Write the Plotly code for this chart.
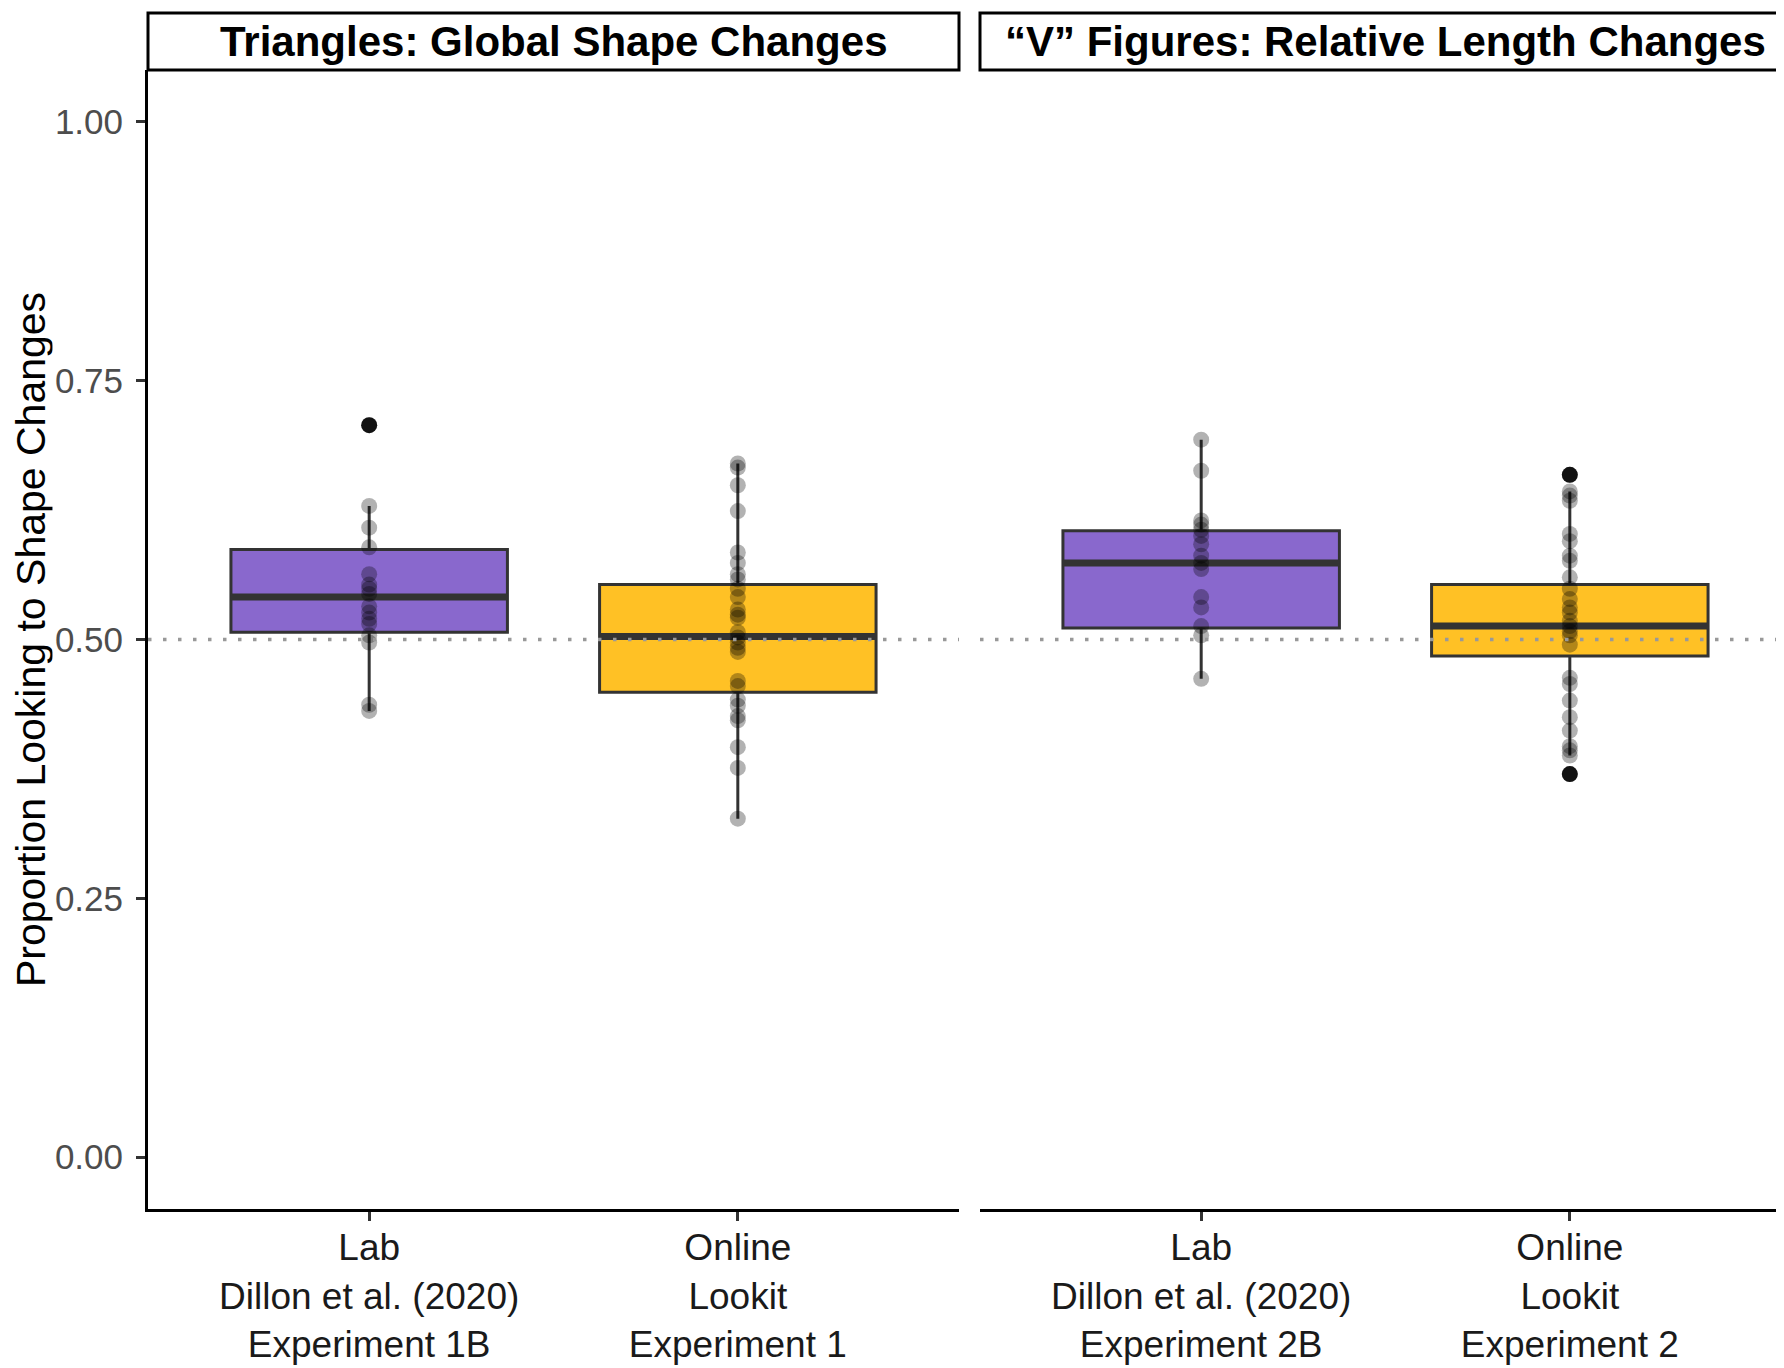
"""
Boxplots of looking proportions: lab vs online, triangles and "V" figures.
"""
import plotly.graph_objects as go
from plotly.subplots import make_subplots

panel_titles = ["Triangles: Global Shape Changes", "\u201cV\u201d Figures: Relative Length Changes"]
groups = ["Lab", "Online"]
tick_labels = [
    ["Lab<br>Dillon et al. (2020)<br>Experiment 1B", "Online<br>Lookit<br>Experiment 1"],
    ["Lab<br>Dillon et al. (2020)<br>Experiment 2B", "Online<br>Lookit<br>Experiment 2"],
]
group_colors = {"Lab": "#8968CD", "Online": "#FFC125"}
chance = 0.5

# box statistics per panel, order follows groups
tri_q1 = [0.507, 0.449]
tri_median = [0.541, 0.503]
tri_q3 = [0.587, 0.553]
tri_lower = [0.431, 0.327]
tri_upper = [0.629, 0.670]

v_q1 = [0.511, 0.484]
v_median = [0.574, 0.513]
v_q3 = [0.605, 0.553]
v_lower = [0.462, 0.388]
v_upper = [0.693, 0.643]

# individual participants
tri_lab_points = [0.707, 0.629, 0.608, 0.589, 0.563, 0.553, 0.549, 0.544, 0.532, 0.526,
                  0.520, 0.515, 0.504, 0.497, 0.437, 0.431]
tri_online_points = [0.670, 0.666, 0.649, 0.624, 0.584, 0.574, 0.563, 0.558, 0.549, 0.541,
                     0.529, 0.524, 0.521, 0.507, 0.502, 0.497, 0.492, 0.488, 0.460, 0.455,
                     0.442, 0.436, 0.426, 0.422, 0.396, 0.376, 0.327]
v_lab_points = [0.693, 0.663, 0.615, 0.611, 0.606, 0.600, 0.592, 0.581, 0.574, 0.568,
                0.541, 0.531, 0.513, 0.504, 0.462]
v_online_points = [0.659, 0.643, 0.639, 0.634, 0.602, 0.595, 0.581, 0.576, 0.560, 0.549,
                   0.539, 0.531, 0.526, 0.518, 0.513, 0.508, 0.504, 0.495, 0.463, 0.457,
                   0.441, 0.425, 0.412, 0.397, 0.393, 0.388, 0.370]

tri_outlier_groups = ["Lab"]
tri_outliers = [0.707]
v_outlier_groups = ["Online", "Online"]
v_outliers = [0.659, 0.370]

panels = [
    dict(q1=tri_q1, med=tri_median, q3=tri_q3, lo=tri_lower, hi=tri_upper,
         points=[tri_lab_points, tri_online_points],
         out_x=tri_outlier_groups, out_y=tri_outliers),
    dict(q1=v_q1, med=v_median, q3=v_q3, lo=v_lower, hi=v_upper,
         points=[v_lab_points, v_online_points],
         out_x=v_outlier_groups, out_y=v_outliers),
]

FONT = "Liberation Sans, Arial, Helvetica, sans-serif"
W, H = 1784, 1368
ML, MR, MT, MB = 140, 1, 62, 167
plot_w = W - ML - MR
plot_h = H - MT - MB
gap = 21 / plot_w

fig = make_subplots(rows=1, cols=2, shared_yaxes=True, horizontal_spacing=gap)

for col, p in enumerate(panels, start=1):
    for i, g in enumerate(groups):
        fig.add_trace(go.Box(
            x=[g], q1=[p["q1"][i]], median=[p["med"][i]], q3=[p["q3"][i]],
            lowerfence=[p["lo"][i]], upperfence=[p["hi"][i]],
            width=0.75, fillcolor=group_colors[g],
            line=dict(color="#333333", width=3), boxpoints=False,
            whiskerwidth=0, showlegend=False, hoverinfo="skip",
        ), row=1, col=col)
        # thicker median bar
        fig.add_trace(go.Box(
            x=[g], q1=[p["med"][i]], median=[p["med"][i]], q3=[p["med"][i]],
            lowerfence=[p["med"][i]], upperfence=[p["med"][i]],
            width=0.75, fillcolor="rgba(0,0,0,0)",
            line=dict(color="#333333", width=7), boxpoints=False,
            showlegend=False, hoverinfo="skip",
        ), row=1, col=col)
    fig.add_trace(go.Scatter(
        x=p["out_x"], y=p["out_y"], mode="markers",
        marker=dict(size=16, color="#1a1a1a", line=dict(width=0)),
        showlegend=False, hoverinfo="skip",
    ), row=1, col=col)
    for i, g in enumerate(groups):
        fig.add_trace(go.Scatter(
            x=[g] * len(p["points"][i]), y=p["points"][i], mode="markers",
            marker=dict(size=16, color="rgba(0,0,0,0.3)", line=dict(width=0)),
            showlegend=False, hoverinfo="skip",
        ), row=1, col=col)

for col in (1, 2):
    fig.update_xaxes(
        type="category", categoryorder="array", categoryarray=groups,
        range=[-0.6, 1.6], tickmode="array", tickvals=groups,
        ticktext=tick_labels[col - 1],
        showline=True, linecolor="black", linewidth=3,
        ticks="outside", ticklen=9, tickwidth=3, tickcolor="#333333",
        tickfont=dict(family=FONT, size=37, color="#1a1a1a"),
        ticklabelstandoff=-5,
        showgrid=False, zeroline=False,
        row=1, col=col,
    )

fig.update_yaxes(
    range=[-0.05, 1.05], tickvals=[0, 0.25, 0.5, 0.75, 1.0], tickformat=".2f",
    showline=True, linecolor="black", linewidth=3,
    ticks="outside", ticklen=9, tickwidth=3, tickcolor="#333333",
    tickfont=dict(family=FONT, size=35, color="#4D4D4D"),
    ticklabelstandoff=6,
    showgrid=False, zeroline=False, row=1, col=1,
)
fig.update_yaxes(
    range=[-0.05, 1.05], showline=False, showticklabels=False, ticks="",
    showgrid=False, zeroline=False, row=1, col=2,
)

# chance line, strips
strip_h = 57 / plot_h
for col, xref in ((1, "x"), (2, "x2")):
    fig.add_hline(y=chance, line=dict(color="#999999", width=3.5, dash="3.5px,11.5px"),
                  layer="above", row=1, col=col)
    fig.add_shape(type="rect", xref=f"{xref} domain", yref="paper",
                  x0=0, x1=1, y0=1, y1=1 + strip_h,
                  line=dict(color="black", width=3), fillcolor="white")
    fig.add_annotation(text=f"<b>{panel_titles[col - 1]}</b>", xref=f"{xref} domain",
                       yref="paper", x=0.5, y=1 + strip_h / 2, showarrow=False,
                       xanchor="center", yanchor="middle",
                       font=dict(family=FONT, size=42, color="black"))

fig.add_annotation(text="Proportion Looking to Shape Changes", textangle=-90,
                   xref="paper", yref="paper", x=(22 - ML) / plot_w, y=0.5,
                   xanchor="center", yanchor="middle", showarrow=False,
                   width=760, height=44, borderpad=0,
                   font=dict(family=FONT, size=41, color="black"))

fig.update_layout(
    width=W, height=H, boxmode="overlay",
    margin=dict(l=ML, r=MR, t=MT, b=MB),
    plot_bgcolor="white", paper_bgcolor="white",
    font=dict(family=FONT),
)

fig.write_html("out.html")
